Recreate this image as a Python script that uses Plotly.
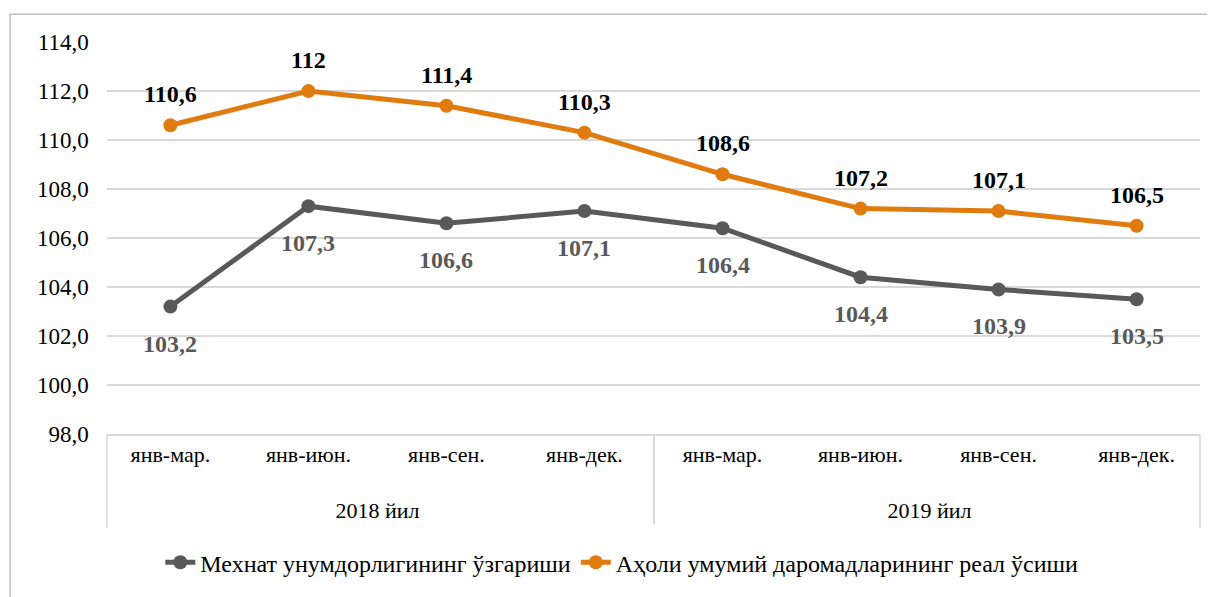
import plotly.graph_objects as go

years = ["2018 йил"] * 4 + ["2019 йил"] * 4
periods = ["янв-мар.", "янв-июн.", "янв-сен.", "янв-дек."] * 2
productivity = [103.2, 107.3, 106.6, 107.1, 106.4, 104.4, 103.9, 103.5]
income = [110.6, 112.0, 111.4, 110.3, 108.6, 107.2, 107.1, 106.5]
productivity_labels = ["103,2", "107,3", "106,6", "107,1", "106,4", "104,4", "103,9", "103,5"]
income_labels = ["110,6", "112", "111,4", "110,3", "108,6", "107,2", "107,1", "106,5"]
y_ticks = [98, 100, 102, 104, 106, 108, 110, 112, 114]
y_tick_text = ["98,0", "100,0", "102,0", "104,0", "106,0", "108,0", "110,0", "112,0", "114,0"]

name_prod = "Мехнат унумдорлигининг ўзгариши"
name_inc = "Аҳоли умумий даромадларининг реал ўсиши"

GRAY = "#595959"
ORANGE = "#E07B10"
FONT = "Times New Roman"

# extra blank line under each period label widens the gap to the year row
period_disp = [p + "<br> " for p in periods]
x = [years, period_disp]

fig = go.Figure()
fig.add_trace(go.Scatter(x=x, y=productivity, name=name_prod, mode="lines+markers",
                         line=dict(color=GRAY, width=5), marker=dict(size=14, color=GRAY)))
fig.add_trace(go.Scatter(x=x, y=income, name=name_inc, mode="lines+markers",
                         line=dict(color=ORANGE, width=5), marker=dict(size=14, color=ORANGE)))

annotations = []
for i in range(len(periods)):
    annotations.append(dict(x=[years[i], period_disp[i]], y=income[i], text="<b>" + income_labels[i] + "</b>",
                            showarrow=False, yshift=31,
                            font=dict(family=FONT, size=24, color="black")))
    annotations.append(dict(x=[years[i], period_disp[i]], y=productivity[i], text="<b>" + productivity_labels[i] + "</b>",
                            showarrow=False, yshift=-37,
                            font=dict(family=FONT, size=24, color=GRAY)))

edge = dict(type="line", xref="paper", yref="paper", y0=0, y1=-0.24,
            line=dict(color="#d9d9d9", width=1.5))
fig.update_layout(
    template="none",
    width=1207, height=589,
    margin=dict(l=99, r=15, t=34, b=159),
    paper_bgcolor="white", plot_bgcolor="white",
    font=dict(family=FONT, size=22, color="black"),
    showlegend=True,
    legend=dict(orientation="h", x=0.471, xanchor="center", y=-0.328, yanchor="middle",
                font=dict(family=FONT, size=24, color="black")),
    annotations=annotations,
    shapes=[dict(type="rect", xref="paper", yref="paper", x0=-0.0887, x1=1.05, y0=-0.5, y1=1.0707,
                 line=dict(color="#bfbfbf", width=1.5), fillcolor="rgba(0,0,0,0)", layer="below"),
            dict(edge, x0=0, x1=0), dict(edge, x0=1, x1=1)],
)
fig.update_yaxes(range=[98, 114], tickvals=y_ticks, ticktext=[t + "   " for t in y_tick_text],
                 showgrid=True, gridcolor="#d9d9d9", gridwidth=1.5, zeroline=False, showline=False,
                 ticks="", tickfont=dict(family=FONT, size=23, color="black"), automargin=False)
fig.update_xaxes(type="multicategory", showgrid=False, showline=True, linecolor="#d9d9d9", linewidth=1.5,
                 showdividers=True, dividercolor="#d9d9d9", dividerwidth=1.5, zeroline=False,
                 tickfont=dict(family=FONT, size=22, color="black"), ticks="", automargin=False)

fig.write_html("out.html")
